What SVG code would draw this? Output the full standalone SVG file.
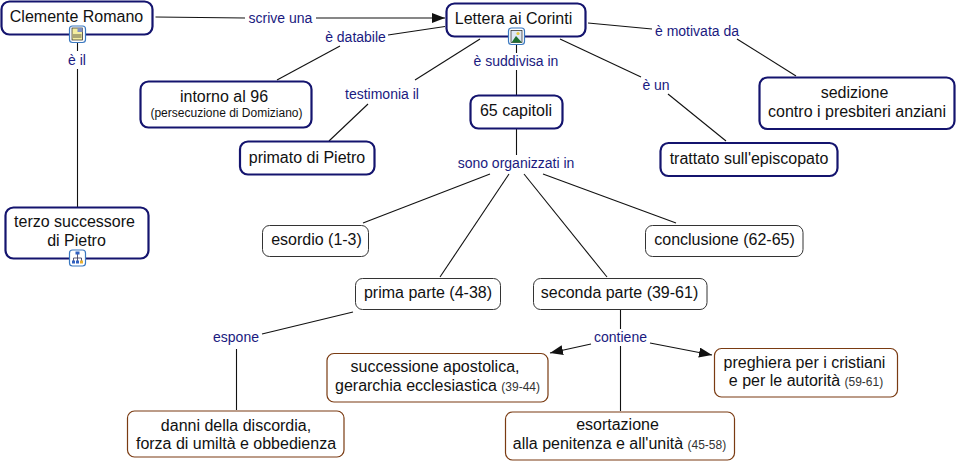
<svg xmlns="http://www.w3.org/2000/svg" width="957" height="462" viewBox="0 0 957 462">
<style>
text{font-family:"Liberation Sans",Arial,sans-serif;text-anchor:middle;fill:#111}
.t{font-size:16px}
.s{font-size:12px;fill:#333}
.l{font-size:14px;fill:#1a1a80}
.a rect.b{fill:#fff;stroke:#14146e;stroke-width:2.2}
.b2 rect.b{fill:#fff;stroke:#333;stroke-width:1}
.c rect.b{fill:#fff;stroke:#7a3b12;stroke-width:1.2}
#connectors line{stroke:#111;stroke-width:1.1}
.ib{fill:#fff;stroke:#3a78c0;stroke-width:1.2}
</style>
<defs>
<marker id="arr" markerWidth="14" markerHeight="12" refX="13" refY="5" orient="auto" markerUnits="userSpaceOnUse"><path d="M0 0L13 5L0 10z" fill="#111"/></marker>
</defs>
<g id="connectors">
<line x1="155.500" y1="17" x2="245" y2="18"/>
<line x1="316" y1="18" x2="445" y2="18" marker-end="url(#arr)"/>
<line x1="77.500" y1="43" x2="77.500" y2="51"/>
<line x1="77.500" y1="69" x2="77.500" y2="207"/>
<line x1="445" y1="26.500" x2="388" y2="35"/>
<line x1="340" y1="46" x2="277" y2="80"/>
<line x1="480" y1="39" x2="415" y2="80"/>
<line x1="368" y1="104" x2="329" y2="141"/>
<line x1="516.500" y1="45" x2="516.500" y2="53"/>
<line x1="516.500" y1="70" x2="516.500" y2="95"/>
<line x1="560" y1="39" x2="641" y2="77"/>
<line x1="668" y1="94" x2="726" y2="141"/>
<line x1="588" y1="23" x2="652" y2="29"/>
<line x1="737" y1="39" x2="796" y2="76"/>
<line x1="516.500" y1="128" x2="516.500" y2="155"/>
<line x1="490" y1="174" x2="363" y2="223"/>
<line x1="509" y1="174" x2="440" y2="277"/>
<line x1="524" y1="174" x2="607" y2="277"/>
<line x1="543" y1="174" x2="676" y2="223"/>
<line x1="353" y1="312" x2="262" y2="334"/>
<line x1="236.500" y1="349" x2="236.500" y2="410"/>
<line x1="620.500" y1="310" x2="620.500" y2="329"/>
<line x1="591" y1="344" x2="550" y2="353" marker-end="url(#arr)"/>
<line x1="620.500" y1="346" x2="620.500" y2="411"/>
<line x1="650" y1="343" x2="712" y2="355" marker-end="url(#arr)"/>
</g>
<g id="labels">
<text class="l" x="280.500" y="23">scrive una</text>
<text class="l" x="77" y="65">è il</text>
<text class="l" x="355.500" y="42">è databile</text>
<text class="l" x="382" y="99">testimonia il</text>
<text class="l" x="516" y="66">è suddivisa in</text>
<text class="l" x="656" y="90">è un</text>
<text class="l" x="697" y="36">è motivata da</text>
<text class="l" x="516" y="168">sono organizzati in</text>
<text class="l" x="236" y="342">espone</text>
<text class="l" x="620.500" y="342">contiene</text>
</g>
<g id="n1" class="a"><rect class="b" x="1.500" y="1.500" width="151" height="33" rx="8"/><text class="t" x="76.500" y="22">Clemente Romano</text>
<rect class="ib" x="69.500" y="26" width="16" height="16.500" rx="3"/><rect x="72" y="28" width="10.500" height="12" fill="#f4eea0" stroke="#222" stroke-width=".7"/><path d="M73 35h8.500M73 37h8.500" stroke="#222" stroke-width=".7"/><rect x="77.500" y="28" width="5" height="4" fill="#8090c0"/></g>
<g id="n2" class="a"><rect class="b" x="446.500" y="3.500" width="139" height="33" rx="8"/><text class="t" x="513.500" y="24">Lettera ai Corinti</text>
<rect class="ib" x="508.500" y="28" width="16" height="16.500" rx="3"/><rect x="511" y="30.500" width="11" height="12" fill="#dfe8f5" stroke="#222" stroke-width=".7"/><circle cx="518" cy="33.500" r="1.600" fill="#e8c840"/><path d="M511.500 42.500L516 36L522 42.500z" fill="#207030"/></g>
<g id="n3" class="a"><rect class="b" x="140.500" y="81.500" width="171" height="46" rx="8"/><text class="t" x="224" y="102">intorno al 96</text><text class="s" x="226.500" y="117" style="fill:#111">(persecuzione di Domiziano)</text></g>
<g id="n4" class="a"><rect class="b" x="240" y="141.500" width="134.500" height="33" rx="8"/><text class="t" x="307" y="163">primato di Pietro</text></g>
<g id="n5" class="a"><rect class="b" x="470.500" y="95.500" width="92" height="33" rx="8"/><text class="t" x="516" y="116">65 capitoli</text></g>
<g id="n6" class="a"><rect class="b" x="660.500" y="143" width="177" height="33" rx="8"/><text class="t" x="749" y="164">trattato sull'episcopato</text></g>
<g id="n7" class="a"><rect class="b" x="759.500" y="77.500" width="195" height="51.500" rx="8"/><text class="t" x="854.500" y="98">sedizione</text><text class="t" x="857" y="117">contro i presbiteri anziani</text></g>
<g id="n8" class="a"><rect class="b" x="5.500" y="207.500" width="143" height="51" rx="8"/><text class="t" x="74.500" y="227">terzo successore</text><text class="t" x="76.500" y="246">di Pietro</text>
<rect class="ib" x="69.500" y="250" width="16" height="16" rx="3"/><path d="M77.500 253v5M73.500 258h8M73.500 258v3M81.500 258v3M77.500 258v3" stroke="#335" stroke-width=".8" fill="none"/><rect x="75.500" y="251.500" width="4" height="3" fill="#3060c0"/><rect x="72" y="260.500" width="3" height="3" fill="#3060c0"/><rect x="80" y="260.500" width="3" height="3" fill="#e8b030"/><rect x="76" y="260.500" width="3" height="3" fill="#3060c0"/></g>
<g id="n9" class="b2"><rect class="b" x="262.500" y="225.500" width="106" height="31" rx="7"/><text class="t" x="316.500" y="245">esordio (1-3)</text></g>
<g id="n10" class="b2"><rect class="b" x="645.500" y="225.500" width="157.500" height="31" rx="7"/><text class="t" x="724.500" y="245">conclusione (62-65)</text></g>
<g id="n11" class="b2"><rect class="b" x="355.500" y="278.500" width="145" height="31" rx="7"/><text class="t" x="428" y="298">prima parte (4-38)</text></g>
<g id="n12" class="b2"><rect class="b" x="533.500" y="278.500" width="173.500" height="31" rx="7"/><text class="t" x="619.500" y="298">seconda parte (39-61)</text></g>
<g id="n13" class="c"><rect class="b" x="327" y="353.500" width="221" height="48.500" rx="7"/><text class="t" x="435" y="372">successione apostolica,</text><text x="437.500" y="391"><tspan class="t">gerarchia ecclesiastica </tspan><tspan class="s">(39-44)</tspan></text></g>
<g id="n14" class="c"><rect class="b" x="127.500" y="411" width="216.500" height="46" rx="7"/><text class="t" x="236" y="431">danni della discordia,</text><text class="t" x="236" y="449">forza di umiltà e obbedienza</text></g>
<g id="n15" class="c"><rect class="b" x="505.500" y="412" width="229" height="48" rx="7"/><text class="t" x="617.500" y="430">esortazione</text><text x="619.500" y="449"><tspan class="t">alla penitenza e all'unità </tspan><tspan class="s">(45-58)</tspan></text></g>
<g id="n16" class="c"><rect class="b" x="714.500" y="348.500" width="183" height="48.500" rx="7"/><text class="t" x="804.500" y="368">preghiera per i cristiani</text><text x="806" y="386"><tspan class="t">e per le autorità </tspan><tspan class="s">(59-61)</tspan></text></g>
</svg>
